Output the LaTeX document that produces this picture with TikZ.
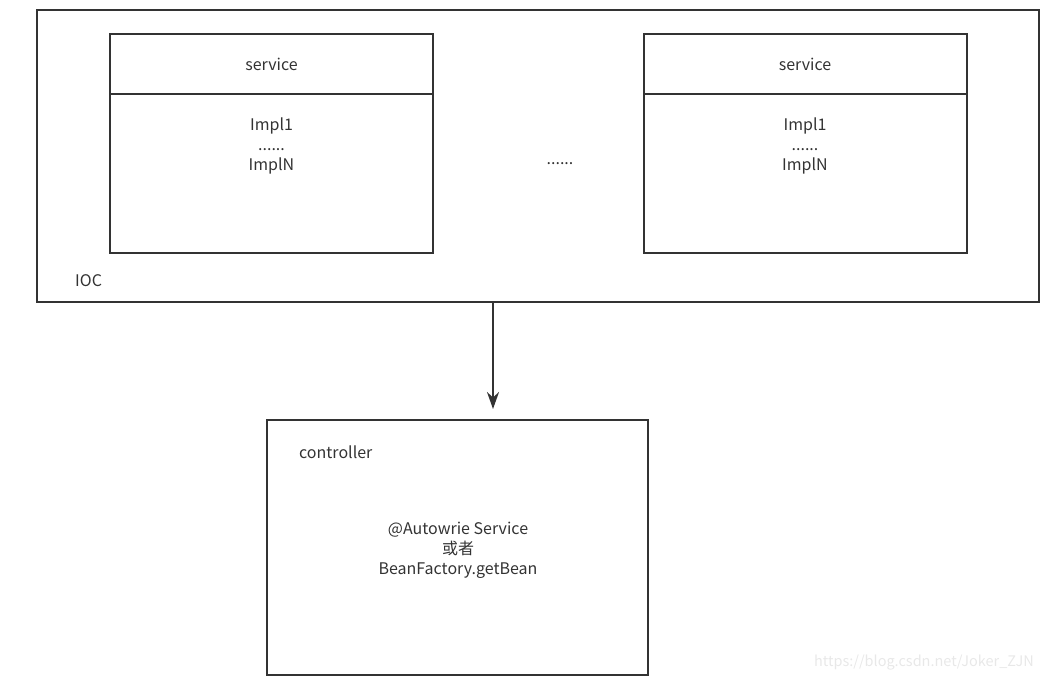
\documentclass[tikz,border=0pt]{standalone}
\usepackage{fontspec}
\setmainfont{Noto Sans CJK SC}
\usetikzlibrary{arrows.meta,positioning}
\definecolor{linegray}{HTML}{333333}
\definecolor{textgray}{HTML}{333333}

\begin{document}
\begin{tikzpicture}[x=1pt, y=-1pt,
  lbl/.style={font=\fontsize{16}{20}\selectfont, text=textgray, align=center, inner sep=0pt},
  box/.style={draw=linegray, line width=2pt, inner sep=0pt, outer sep=0pt, minimum width=323pt},
  hdr/.style={box, lbl, minimum height=60pt},
  body/.style={box, minimum height=159pt},
  arr/.style={-{Stealth[length=17pt, width=12pt]}, line width=2pt, draw=linegray},
]
\useasboundingbox (0,0) rectangle (1043,682);

% container
\node[box, minimum width=1002pt, minimum height=292pt] (ioc) at (538,156) {};
\node[lbl, anchor=west] (iocname) at (75,281) {IOC};

% service boxes
\node[hdr] (hdrA) at (271.5,64) {service};
\node[body, below=0pt of hdrA] (bodyA) {};
\node[lbl] (implA) at (271.5,146) {Impl1\\......\\ImplN};

\node[hdr] (hdrB) at (805,64) {service};
\node[body, below=0pt of hdrB] (bodyB) {};
\node[lbl] (implB) at (805,146) {Impl1\\......\\ImplN};

\node[lbl, anchor=base] (more) at (560,164) {......};

% controller
\node[box, minimum width=381pt, minimum height=255pt] (ctrl) at (457.5,547.5) {};
\node[lbl, anchor=west] (ctrlname) at (299,452) {controller};
\node[lbl] (inject) at (458,550) {@Autowrie Service\\或者\\BeanFactory.getBean};

\coordinate (tip) at (493,409);
\draw[arr] (ioc.south -| tip) -- (tip);

\node[font=\fontsize{14.5}{16}\selectfont, text=black!9, anchor=east, inner sep=0pt] (mark) at (1034,663) {https://blog.csdn.net/Joker\_ZJN};
\end{tikzpicture}
\end{document}
